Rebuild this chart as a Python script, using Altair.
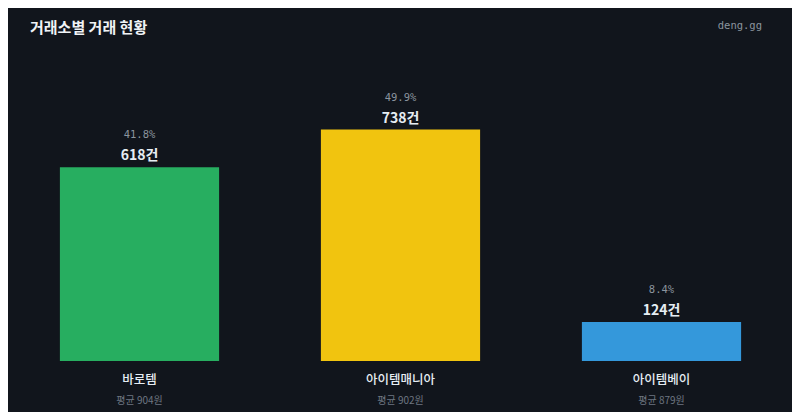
import altair as alt
import pandas as pd

exchanges = ["바로템", "아이템매니아", "아이템베이"]
counts = [618, 738, 124]
shares = [41.8, 49.9, 8.4]
avg_prices = [904, 902, 879]
colors = ["#27ae60", "#f1c40f", "#3498db"]
title_text = "거래소별 거래 현황"
brand_text = "deng.gg"

df = pd.DataFrame({
    "exchange": exchanges,
    "count": counts,
    "share": shares,
    "avg": avg_prices,
})
df["count_label"] = df["count"].astype(str) + "건"
df["share_label"] = df["share"].map(lambda v: f"{v:.1f}%")
df["avg_label"] = df["avg"].map(lambda v: f"평균 {v}원")

W = 783
H = 301
KR = "Noto Sans CJK KR"
MONO = "DejaVu Sans Mono"

x_enc = alt.X("exchange:N", sort=exchanges, axis=None,
              scale=alt.Scale(paddingInner=0.39, paddingOuter=0.195))
y_scale = alt.Scale(domain=[0, 960], nice=False)

base = alt.Chart(df)

bars = base.mark_bar(cornerRadius=0).encode(
    x=x_enc,
    y=alt.Y("count:Q", scale=y_scale, axis=None),
    color=alt.Color("exchange:N", sort=exchanges,
                    scale=alt.Scale(domain=exchanges, range=colors), legend=None),
)

count_text = base.mark_text(
    dy=-7, baseline="alphabetic", font=KR, fontSize=14, fontWeight="bold", color="#e6edf3"
).encode(x=x_enc, y=alt.Y("count:Q", scale=y_scale), text="count_label:N")

share_text = base.mark_text(
    dy=-29, baseline="alphabetic", font=MONO, fontSize=10.5, color="#8b949e"
).encode(x=x_enc, y=alt.Y("count:Q", scale=y_scale), text="share_label:N")

name_text = base.mark_text(
    baseline="middle", font=KR, fontSize=12.5, fontWeight=500, color="#e6edf3"
).encode(x=x_enc, y=alt.value(H + 19), text="exchange:N")

avg_text = base.mark_text(
    baseline="middle", font=KR, fontSize=10, color="#6e7681"
).encode(x=x_enc, y=alt.value(H + 40), text="avg_label:N")

brand = alt.Chart(pd.DataFrame({"t": [brand_text]})).mark_text(
    align="right", baseline="alphabetic", font=MONO, fontSize=10.5, color="#8b949e"
).encode(x=alt.value(753), y=alt.value(-31), text="t:N")

title = alt.Chart(pd.DataFrame({"t": [title_text]})).mark_text(
    align="left", baseline="alphabetic", font=KR, fontSize=15, fontWeight="bold", color="#f0f3f6"
).encode(x=alt.value(21), y=alt.value(-27), text="t:N")

chart = alt.layer(bars, share_text, count_text, name_text, avg_text, brand, title).properties(
    width=W,
    height=H,
    background="#11151c",
    padding={"left": 1, "top": 52, "right": 0, "bottom": 51},
    autosize=alt.AutoSizeParams(type="none"),
).configure_view(stroke=None)

chart.save("out.html", embed_options={"renderer": "svg", "actions": False})
